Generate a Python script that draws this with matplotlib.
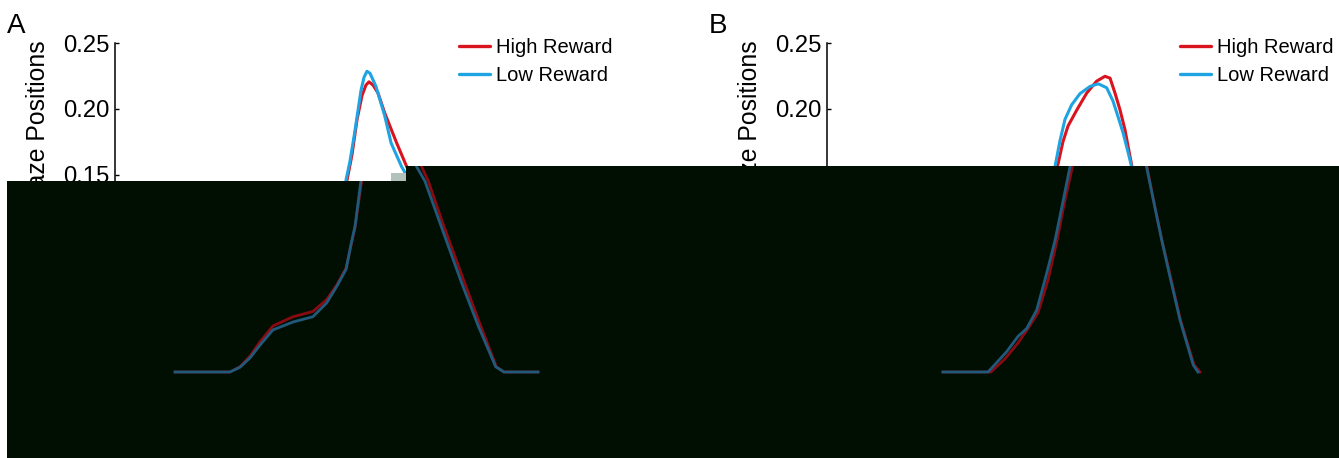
import matplotlib
matplotlib.use('Agg')
import matplotlib.pyplot as plt
from matplotlib.patches import Rectangle
from matplotlib.transforms import ScaledTranslation

plt.rcParams['font.family'] = ['Liberation Sans', 'DejaVu Sans']

# ---------------- data ----------------
series_labels = ['High Reward', 'Low Reward']
ylabel_text = 'Proportion of Gaze Positions'
panel_letters = ['A', 'B']
yticks = [0.0, 0.05, 0.10, 0.15, 0.20, 0.25]

A_x_high = [-12.35, -9.12, -8.53, -7.94, -7.35, -6.59, -5.41, -4.24, -3.43, -2.84, -2.29, -2.0, -1.76,
            -1.41, -1.06, -0.76, -0.47, -0.24, -0.06, 0.18, 0.47, 0.86, 1.57, 2.16, 2.55, 3.40, 4.62,
            5.60, 6.55, 7.0, 9.0]
A_high = [0, 0, 0.004, 0.012, 0.023, 0.035, 0.042, 0.046, 0.055, 0.066, 0.079, 0.096, 0.110,
          0.142, 0.165, 0.192, 0.210, 0.218, 0.2205, 0.218, 0.212, 0.197, 0.174, 0.156, 0.145, 0.113, 0.070,
          0.036, 0.004, 0, 0]

A_x_low = [-12.35, -9.12, -8.53, -7.94, -7.35, -6.59, -5.41, -4.24, -3.43, -2.84, -2.29, -2.0, -1.76,
           -1.41, -1.18, -0.90, -0.53, -0.35, -0.18, 0.0, 0.35, 0.86, 1.24, 1.86, 2.35, 3.24, 4.5,
           5.5, 6.51, 7.0, 9.0]
A_low = [0, 0, 0.0036, 0.0107, 0.0205, 0.032, 0.038, 0.042, 0.0525, 0.065, 0.078, 0.097, 0.111,
         0.146, 0.160, 0.182, 0.214, 0.224, 0.2285, 0.227, 0.217, 0.195, 0.174, 0.156, 0.145, 0.113, 0.068,
         0.0345, 0.004, 0, 0]

B_x_high = [-9.06, -7.76, -6.24, -5.41, -4.65, -4.06, -3.47, -2.88, -2.35, -1.88, -1.41, -1.12, -0.82,
            -0.31, 0.28, 0.86, 1.35, 1.65, 1.94, 2.24, 2.53, 2.82, 2.94, 3.32, 3.82, 4.32, 4.91, 5.71, 6.06]
B_high = [0, 0, 0, 0.010, 0.022, 0.033, 0.045, 0.070, 0.100, 0.131, 0.158, 0.175, 0.187,
          0.199, 0.212, 0.221, 0.2247, 0.2233, 0.212, 0.199, 0.184, 0.164, 0.156, 0.131, 0.100, 0.0725,
          0.0396, 0.0053, 0]

B_x_low = [-9.06, -7.76, -6.41, -5.31, -4.65, -4.14, -3.55, -2.96, -2.47, -1.98, -1.59, -1.29, -1.0,
           -0.61, -0.12, 0.47, 0.96, 1.45, 1.82, 2.12, 2.41, 2.71, 2.88, 3.31, 3.81, 4.29, 4.88, 5.66, 5.94]
B_low = [0, 0, 0, 0.0155, 0.027, 0.033, 0.047, 0.075, 0.100, 0.131, 0.156, 0.176, 0.192,
         0.203, 0.2115, 0.217, 0.219, 0.216, 0.206, 0.194, 0.182, 0.167, 0.158, 0.131, 0.100, 0.0725,
         0.0396, 0.0053, 0]

# ---------------- style ----------------
RED = '#d9141e'
BLUE = '#1ea3e3'
DIM_RED = '#8a0a12'
DIM_BLUE = '#1f5a7c'
DARK = '#000f02'
GRAY = '#b2c2ba'

W, H, DPI = 1339, 458, 100
fig = plt.figure(figsize=(W / DPI, H / DPI), dpi=DPI)
fig.patch.set_facecolor('white')


def fx(px):
    return px / W


def fy(py):
    return 1 - py / H


XLIM = (-15, 15)
YLIM = (-0.01, 0.25)
px_per_unit = 65.8 / 0.05
top_px = 43
bot_px = top_px + (YLIM[1] - YLIM[0]) * px_per_unit
ax_w_px = 510

panels = [
    dict(letter=panel_letters[0], left=115, xh=A_x_high, yh=A_high, xl=A_x_low, yl=A_low,
         leg_x=459, letter_x=7),
    dict(letter=panel_letters[1], left=827, xh=B_x_high, yh=B_high, xl=B_x_low, yl=B_low,
         leg_x=1180, letter_x=709),
]

# dark overlay rectangles (figure pixel coords)
R1 = Rectangle((fx(7), fy(458)), fx(406) - fx(7), fy(181) - fy(458),
               transform=fig.transFigure, facecolor=DARK, edgecolor='none', zorder=5)
R2 = Rectangle((fx(406), fy(458)), fx(1339) - fx(406), fy(165.5) - fy(458),
               transform=fig.transFigure, facecolor=DARK, edgecolor='none', zorder=5)
SQ = Rectangle((fx(391), fy(181)), fx(406) - fx(391), fy(173) - fy(181),
               transform=fig.transFigure, facecolor=GRAY, edgecolor='none', zorder=6)
for r in (R1, R2, SQ):
    fig.add_artist(r)

shift = ScaledTranslation(15 / DPI, 0, fig.dpi_scale_trans)

for p in panels:
    rect = [fx(p['left']), fy(bot_px), ax_w_px / W, (bot_px - top_px) / H]
    ax = fig.add_axes(rect)
    ax.set_facecolor('none')
    ax.plot(p['xh'], p['yh'], color=RED, lw=2.2, label=series_labels[0],
            solid_capstyle='round', solid_joinstyle='round')
    ax.plot(p['xl'], p['yl'], color=BLUE, lw=2.2, label=series_labels[1],
            solid_capstyle='round', solid_joinstyle='round')
    ax.set_xlim(*XLIM)
    ax.set_ylim(*YLIM)
    ax.set_yticks(yticks)
    ax.set_yticklabels(['%.2f' % v for v in yticks])
    for s in ('top', 'right', 'bottom'):
        ax.spines[s].set_visible(False)
    ax.spines['left'].set_linewidth(1.1)
    ax.spines['left'].set_bounds(YLIM[0], 0.25)
    ax.tick_params(axis='y', direction='in', length=3, width=1, labelsize=17.2, pad=3.6)
    ax.tick_params(axis='x', bottom=False, labelbottom=False)
    ax.set_ylabel(ylabel_text, fontsize=17.8)
    ax.yaxis.label.set_horizontalalignment('right')
    ax.yaxis.label.set_verticalalignment('center')
    ax.yaxis.set_label_coords(fx(p['left'] - 77), fy(40), transform=fig.transFigure)

    leg = ax.legend(frameon=False, loc='upper left',
                    bbox_to_anchor=(fx(p['leg_x']), fy(38)), bbox_transform=fig.transFigure,
                    borderpad=0, borderaxespad=0, handlelength=1.55, handletextpad=0.3,
                    labelspacing=0.45, fontsize=14.5)
    for h in leg.legend_handles:
        h.set_linewidth(2.4)

    fig.text(fx(p['letter_x']), fy(33), p['letter'], fontsize=20, ha='left', va='baseline')

    # dimmed, shifted copy visible inside the dark overlay
    ov = fig.add_axes(rect, zorder=10)
    ov.set_xlim(*XLIM)
    ov.set_ylim(*YLIM)
    ov.axis('off')
    ov.patch.set_visible(False)
    tr = ov.transData + shift
    for R in (R1, R2):
        l1, = ov.plot(p['xh'], p['yh'], color=DIM_RED, lw=2.0, transform=tr,
                      solid_joinstyle='round')
        l2, = ov.plot(p['xl'], p['yl'], color=DIM_BLUE, lw=2.0, transform=tr,
                      solid_joinstyle='round')
        for l in (l1, l2):
            l.set_clip_on(True)
            l.set_clip_box(None)
            l.set_clip_path(R)

fig.savefig('out.png', dpi=DPI, facecolor='white')
